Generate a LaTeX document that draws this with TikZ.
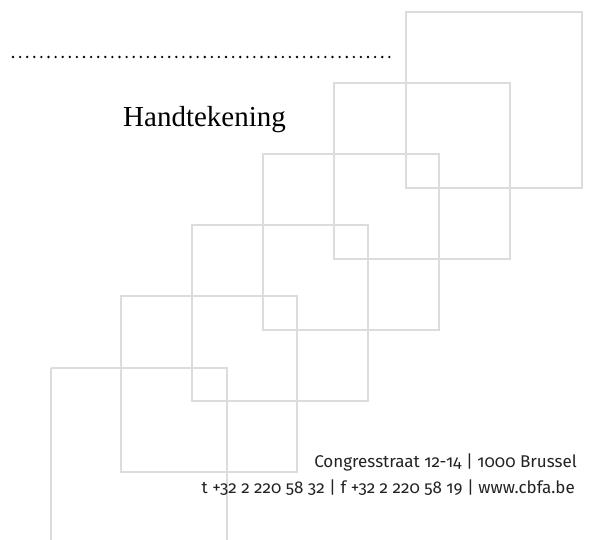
\documentclass[tikz,border=0pt]{standalone}
\usepackage{fontspec}
\setmainfont{Liberation Serif}
\newfontfamily\footfont[Numbers=OldStyle]{Fira Sans}
\definecolor{sqgray}{HTML}{DCDCDC}
\definecolor{txtgray}{HTML}{222222}
\tikzset{
  sqbox/.style={draw=sqgray, line width=1.4pt},
  dotline/.style={draw=black, line width=2.6pt, line cap=round, dash pattern=on 0pt off 7.1pt},
  foot/.style={font=\footfont\fontsize{17}{19}\selectfont, text=txtgray, inner sep=0pt, anchor=base east}
}
\begin{document}
\begin{tikzpicture}[x=1pt,y=-1pt]
\useasboundingbox (0,0) rectangle (589,540);
% squares
\draw[sqbox] (406,12) rectangle (582,188);
\draw[sqbox] (334,83) rectangle (510,259);
\draw[sqbox] (263,154) rectangle (439,330);
\draw[sqbox] (192,225) rectangle (368,401);
\draw[sqbox] (121,296) rectangle (297,472);
\draw[sqbox] (51,368) -- (51,540);
\draw[sqbox] (51,368) -- (227,368) -- (227,540);
% dotted signature line
\coordinate (d1) at (13,57);
\coordinate (d2) at (396,57);
\draw[dotline] (d1) -- (d2);
% label
\node[font=\fontsize{29}{32}\selectfont, inner sep=0pt, anchor=base west] (hand) at (123,127) {Handtekening};
% footer
\node[foot] (addr) at (577,467) {Congresstraat 12-14 | 1000 Brussel};
\node[foot] (tel) at (575,493) {t +32 2 220 58 32 | f +32 2 220 58 19 | www.cbfa.be};
\end{tikzpicture}
\end{document}
